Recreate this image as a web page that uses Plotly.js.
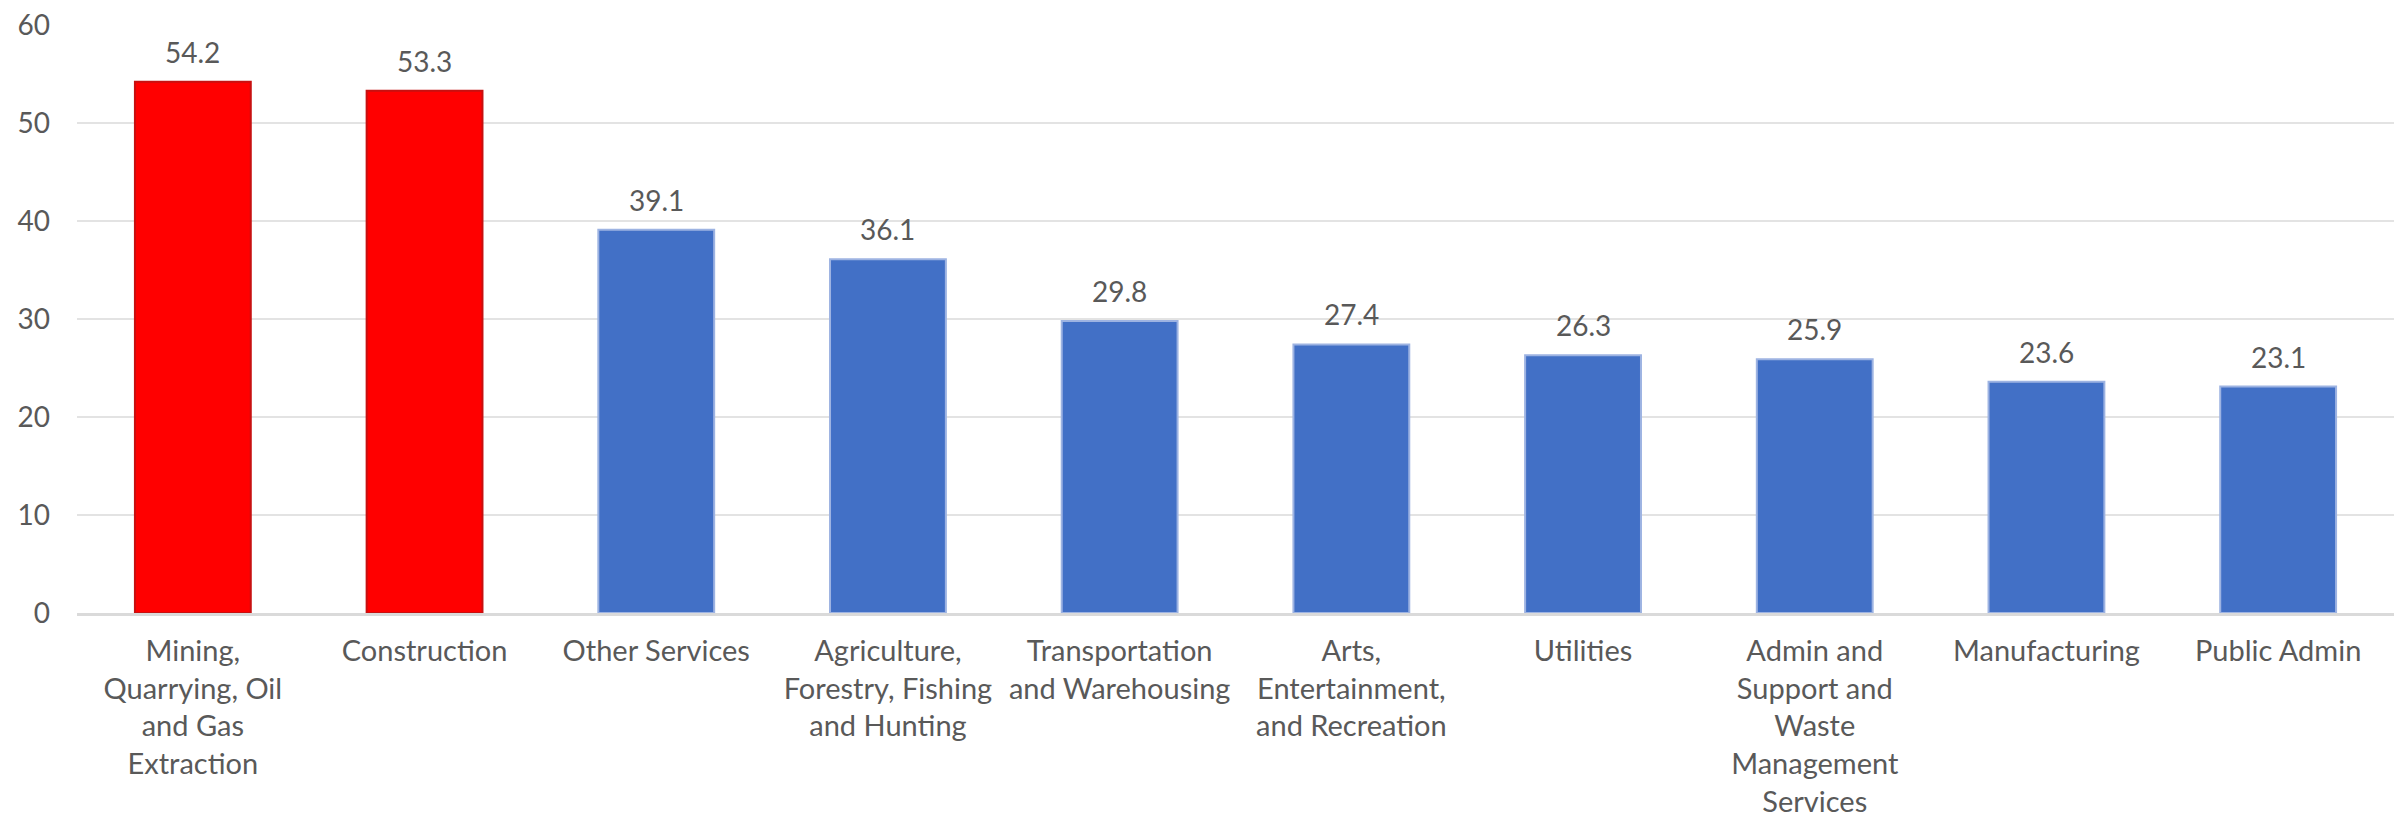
<!DOCTYPE html>
<html>
<head>
<meta charset="utf-8">
<script src="https://cdn.plot.ly/plotly-3.0.1.min.js"></script>
<style>
  html, body { margin: 0; padding: 0; background: #ffffff; }
  #chart { width: 2407px; height: 824px; }
</style>
</head>
<body>
<div id="chart"></div>
<script>
// ---- Data ----
const categories = [
  "Mining,<br>Quarrying, Oil<br>and Gas<br>Extraction",
  "Construction",
  "Other Services",
  "Agriculture,<br>Forestry, Fishing<br>and Hunting",
  "Transportation<br>and Warehousing",
  "Arts,<br>Entertainment,<br>and Recreation",
  "Utilities",
  "Admin and<br>Support and<br>Waste<br>Management<br>Services",
  "Manufacturing",
  "Public Admin"
];
const values = [54.2, 53.3, 39.1, 36.1, 29.8, 27.4, 26.3, 25.9, 23.6, 23.1];
const highlightedCount = 2;
const yTickValues = [0, 10, 20, 30, 40, 50, 60];

// ---- Styles ----
const RED = '#FF0000', RED_EDGE = '#C81010';
const BLUE = '#4270C6', BLUE_EDGE = '#9DB3E2';
const TEXT = '#595959';
const FONT = 'Lato, "Open Sans", sans-serif';

const fillColors = values.map((v, i) => i < highlightedCount ? RED : BLUE);
const edgeColors = values.map((v, i) => i < highlightedCount ? RED_EDGE : BLUE_EDGE);

const trace = {
  type: 'bar',
  x: categories,
  y: values,
  marker: { color: fillColors, line: { color: edgeColors, width: 2 } },
  hoverinfo: 'x+y',
  showlegend: false
};

const annotations = values.map((v, i) => ({
  x: categories[i],
  y: v,
  xref: 'x', yref: 'y',
  text: v.toFixed(1),
  showarrow: false,
  yanchor: 'middle',
  yshift: 30,
  font: { family: FONT, size: 28, color: TEXT }
}));

const layout = {
  width: 2407,
  height: 824,
  margin: { l: 77, r: 13, t: 25, b: 211, pad: 0 },
  paper_bgcolor: '#ffffff',
  plot_bgcolor: '#ffffff',
  bargap: 0.5,
  font: { family: FONT, color: TEXT },
  xaxis: {
    type: 'category',
    showgrid: false,
    showline: true,
    linecolor: '#DADADA',
    linewidth: 3,
    ticks: '',
    tickfont: { family: FONT, size: 29, color: TEXT },
    ticklabelstandoff: 10,
    tickangle: 0,
    automargin: false
  },
  yaxis: {
    range: [0, 60],
    tickvals: yTickValues,
    ticktext: yTickValues.map(String),
    showgrid: true,
    gridcolor: '#E3E3E3',
    gridwidth: 2,
    zeroline: false,
    showline: false,
    ticks: '',
    tickfont: { family: FONT, size: 28, color: TEXT },
    ticklabelstandoff: 26,
    automargin: false
  },
  annotations: annotations
};

Plotly.newPlot('chart', [trace], layout, { displayModeBar: false, staticPlot: true });
</script>
</body>
</html>
